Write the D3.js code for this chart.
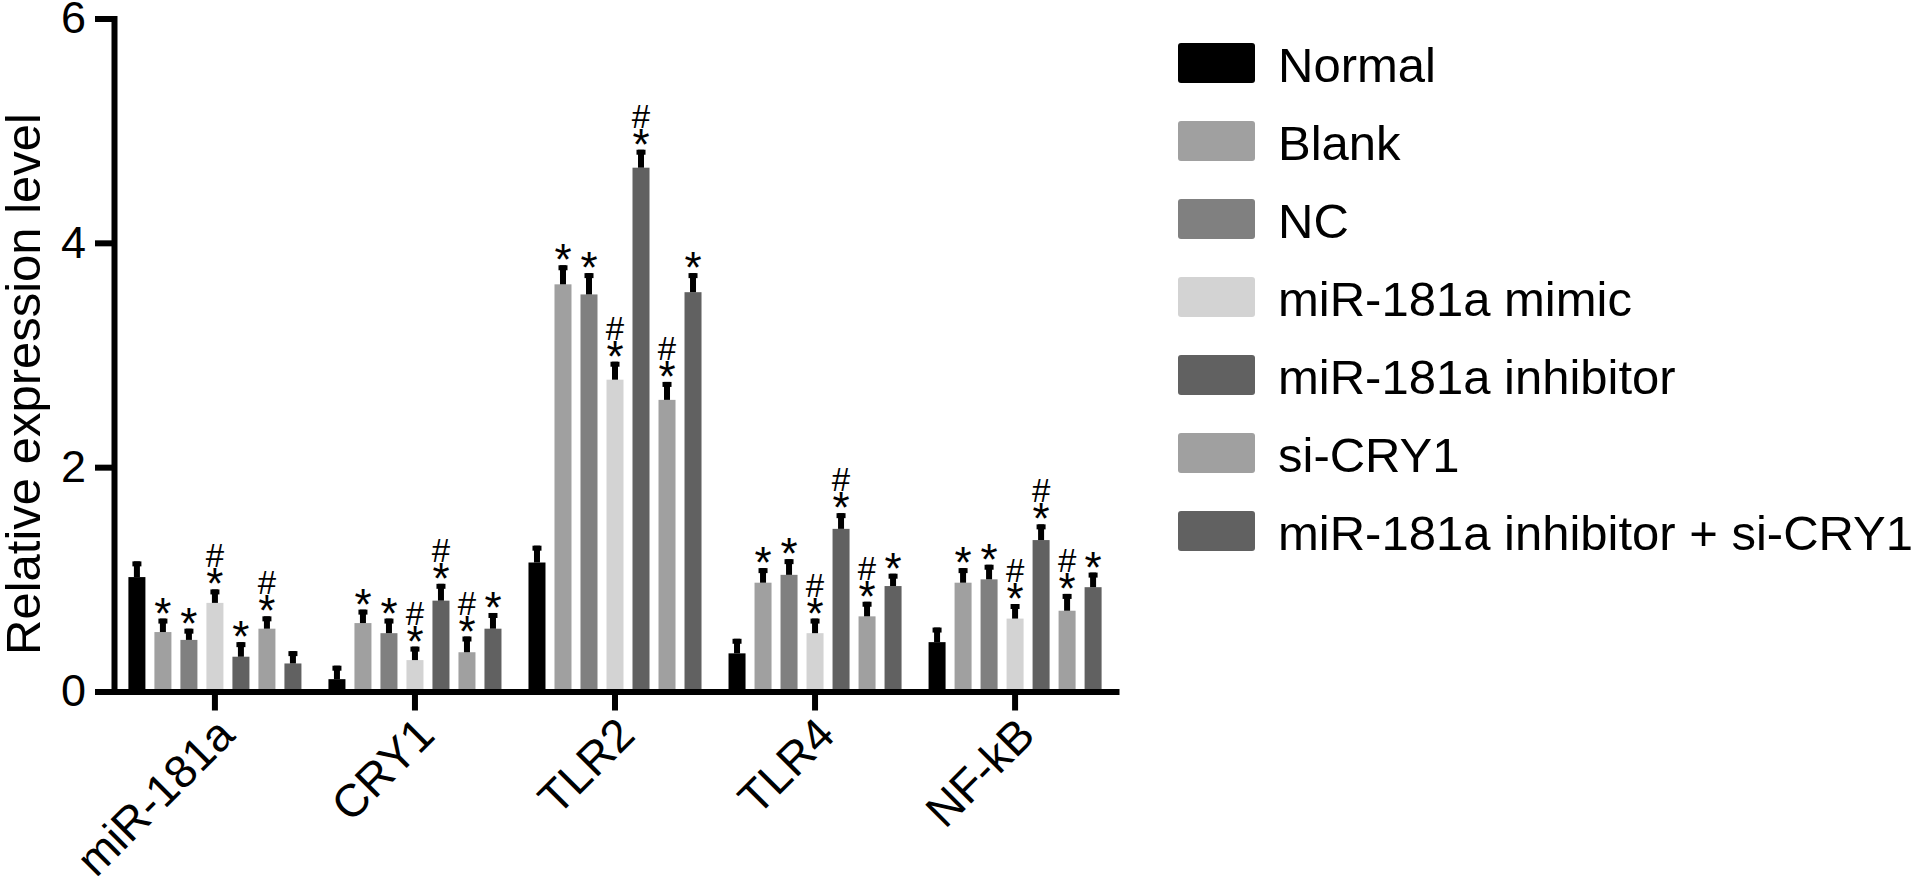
<!DOCTYPE html>
<html>
<head>
<meta charset="utf-8">
<script src="https://cdn.jsdelivr.net/npm/d3@7"></script>
<style>
  body { margin: 0; background: #fff; }
  svg { display: block; font-family: "Liberation Sans", Arial, sans-serif; }
</style>
</head>
<body>
<div id="chart"></div>
<script>
// data
var categories = ['miR-181a', 'CRY1', 'TLR2', 'TLR4', 'NF-kB'];
var groups = ['Normal', 'Blank', 'NC', 'miR-181a mimic', 'miR-181a inhibitor', 'si-CRY1', 'miR-181a inhibitor + si-CRY1'];
var groupColors = ['#000000', '#a0a0a0', '#808080', '#d3d3d3', '#616161', '#a0a0a0', '#616161'];

var normalValues = [1.02, 0.11, 1.15, 0.34, 0.44];
var blankValues = [0.53, 0.61, 3.63, 0.97, 0.97];
var ncValues = [0.46, 0.52, 3.54, 1.04, 1.0];
var mimicValues = [0.79, 0.28, 2.78, 0.52, 0.65];
var inhibitorValues = [0.31, 0.81, 4.67, 1.45, 1.35];
var siCryValues = [0.56, 0.35, 2.6, 0.67, 0.72];
var comboValues = [0.25, 0.56, 3.56, 0.94, 0.93];

var normalErr = [0.14, 0.12, 0.15, 0.13, 0.13];
var blankErr = [0.12, 0.12, 0.17, 0.13, 0.13];
var ncErr = [0.1, 0.13, 0.19, 0.14, 0.13];
var mimicErr = [0.12, 0.12, 0.16, 0.13, 0.13];
var inhibitorErr = [0.13, 0.15, 0.16, 0.14, 0.14];
var siCryErr = [0.11, 0.14, 0.16, 0.13, 0.15];
var comboErr = [0.11, 0.14, 0.17, 0.11, 0.13];

// significance marks: * vs Normal, # vs NC
var normalSig = ['', '', '', '', ''];
var blankSig = ['*', '*', '*', '*', '*'];
var ncSig = ['*', '*', '*', '*', '*'];
var mimicSig = ['*#', '*#', '*#', '*#', '*#'];
var inhibitorSig = ['*', '*#', '*#', '*#', '*#'];
var siCrySig = ['*#', '*#', '*#', '*#', '*#'];
var comboSig = ['', '*', '*', '*', '*'];

var yTicks = [0, 2, 4, 6];
var yLabel = 'Relative expression level';

var seriesValues = [normalValues, blankValues, ncValues, mimicValues, inhibitorValues, siCryValues, comboValues];
var seriesErr = [normalErr, blankErr, ncErr, mimicErr, inhibitorErr, siCryErr, comboErr];
var seriesSig = [normalSig, blankSig, ncSig, mimicSig, inhibitorSig, siCrySig, comboSig];

// params
var width = 1928;
var height = 891;
var axisWidth = 6;

var svg = d3.select('#chart').append('svg')
  .attr('width', width)
  .attr('height', height);

var x0 = d3.scaleBand()
  .domain(categories)
  .range([114, 1116])
  .paddingInner(0.135)
  .paddingOuter(0.072);

var x1 = d3.scaleBand()
  .domain(groups)
  .range([0, x0.bandwidth()])
  .paddingInner(0.346)
  .paddingOuter(0);

var y = d3.scaleLinear()
  .domain([0, 6])
  .range([691.5, 18.5]);

// flatten into one table
var rows = [];
categories.forEach(function(cat, ci) {
  groups.forEach(function(g, gi) {
    rows.push({
      cat: cat,
      group: g,
      gi: gi,
      value: seriesValues[gi][ci],
      err: seriesErr[gi][ci],
      sig: seriesSig[gi][ci]
    });
  });
});

var barCenter = d => x0(d.cat) + x1(d.group) + x1.bandwidth() / 2;

var bars = svg.append('g').attr('class', 'bars');

bars.selectAll('rect.bar')
  .data(rows)
  .enter()
  .append('rect')
  .attr('class', 'bar')
  .attr('x', d => x0(d.cat) + x1(d.group))
  .attr('y', d => y(d.value))
  .attr('width', x1.bandwidth())
  .attr('height', d => y(0) - y(d.value))
  .attr('fill', d => groupColors[d.gi]);

// error bars (upper only)
var stemW = 6;
var capW = 9;
var capH = 5;
bars.selectAll('rect.stem')
  .data(rows)
  .enter()
  .append('rect')
  .attr('class', 'stem')
  .attr('x', d => barCenter(d) - stemW / 2)
  .attr('y', d => y(d.value + d.err))
  .attr('width', stemW)
  .attr('height', d => y(d.value) - y(d.value + d.err))
  .attr('fill', '#000');

bars.selectAll('rect.cap')
  .data(rows)
  .enter()
  .append('rect')
  .attr('class', 'cap')
  .attr('x', d => barCenter(d) - capW / 2)
  .attr('y', d => y(d.value + d.err))
  .attr('width', capW)
  .attr('height', capH)
  .attr('fill', '#000');

// significance marks
var marks = svg.append('g').attr('class', 'marks');
marks.selectAll('text.star')
  .data(rows.filter(d => d.sig.indexOf('*') >= 0))
  .enter()
  .append('text')
  .attr('class', 'star')
  .attr('x', barCenter)
  .attr('y', d => y(d.value + d.err) + 10)
  .attr('text-anchor', 'middle')
  .style('font-size', '44px')
  .text('*');

marks.selectAll('text.hash')
  .data(rows.filter(d => d.sig.indexOf('#') >= 0))
  .enter()
  .append('text')
  .attr('class', 'hash')
  .attr('x', barCenter)
  .attr('y', d => y(d.value + d.err) - 22)
  .attr('text-anchor', 'middle')
  .style('font-size', '33px')
  .text('#');

// axes
var yAxis = svg.append('g')
  .attr('transform', 'translate(114,0)')
  .call(d3.axisLeft(y).tickValues(yTicks).tickFormat(d3.format('d'))
    .tickSize(19).tickSizeOuter(0).tickPadding(9));

var xAxis = svg.append('g')
  .attr('transform', `translate(0,${y(0)})`)
  .call(d3.axisBottom(x0).tickSize(19).tickSizeOuter(0));

[yAxis, xAxis].forEach(function(ax) {
  ax.selectAll('path.domain')
    .attr('stroke', '#000')
    .attr('stroke-width', axisWidth)
    .attr('stroke-linecap', 'square');
  ax.selectAll('.tick line')
    .attr('stroke', '#000')
    .attr('stroke-width', axisWidth);
  ax.selectAll('text').attr('fill', '#000');
});

yAxis.selectAll('.tick text')
  .style('font-size', '45px')
  .style('font-family', '"Liberation Sans", Arial, sans-serif');

xAxis.selectAll('.tick text')
  .style('font-size', '46px')
  .style('font-family', '"Liberation Sans", Arial, sans-serif')
  .attr('text-anchor', 'end')
  .attr('dy', 0)
  .attr('y', 0)
  .attr('transform', 'translate(22,46) rotate(-45)');

// y label
svg.append('text')
  .attr('transform', 'translate(40,384) rotate(-90)')
  .attr('text-anchor', 'middle')
  .style('font-size', '49px')
  .text(yLabel);

// legend
var legend = svg.append('g')
  .attr('transform', 'translate(1178,43)');

var items = legend.selectAll('g.item')
  .data(groups)
  .enter()
  .append('g')
  .attr('class', 'item')
  .attr('transform', (d, i) => `translate(0,${i * 78})`);

items.append('rect')
  .attr('width', 77)
  .attr('height', 40)
  .attr('rx', 3)
  .attr('fill', (d, i) => groupColors[i]);

items.append('text')
  .attr('x', 100)
  .attr('y', 38.5)
  .style('font-size', '49px')
  .text(d => d);
</script>
</body>
</html>
